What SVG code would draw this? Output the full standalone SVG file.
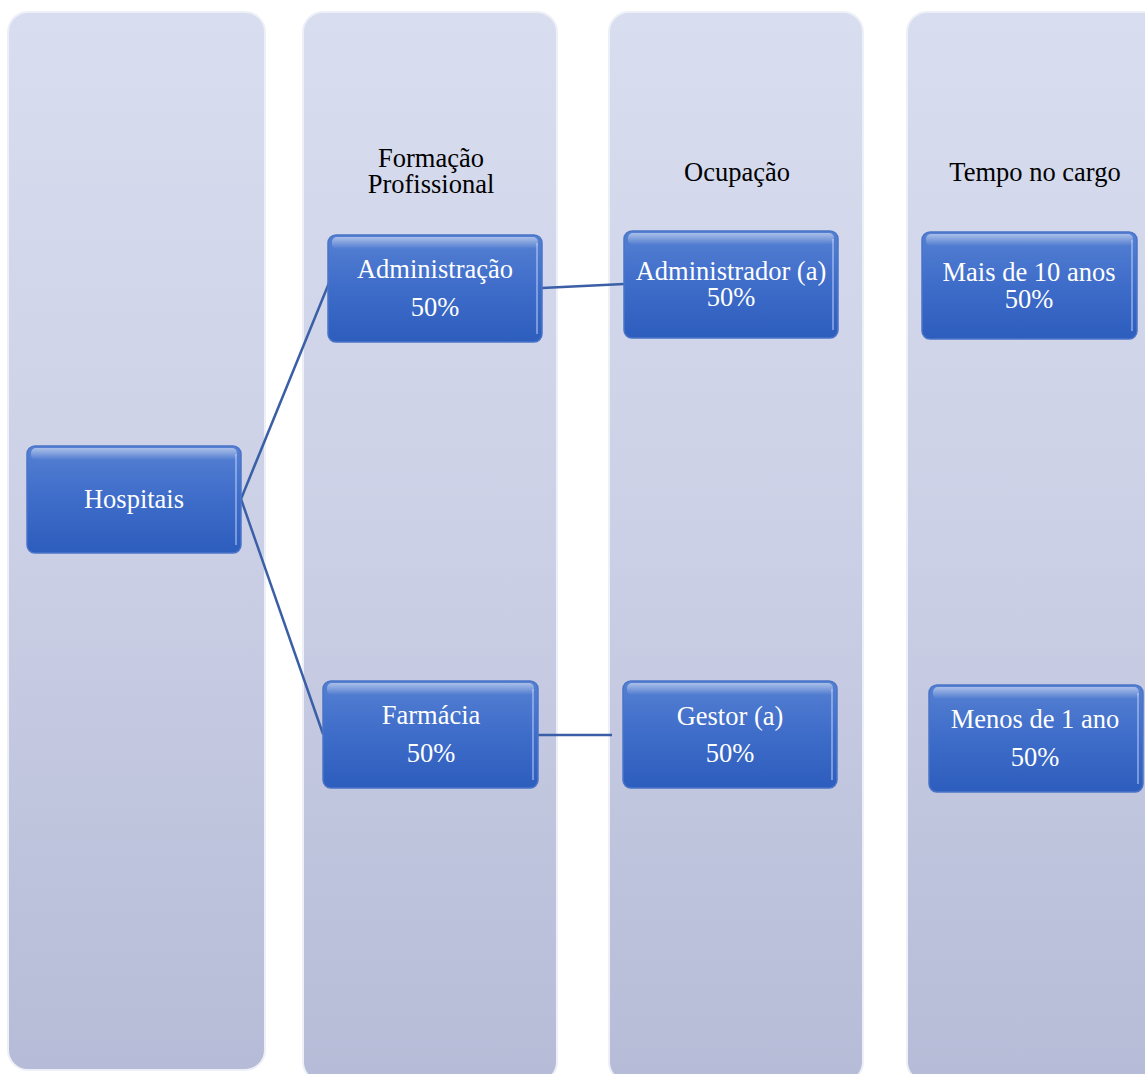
<svg xmlns="http://www.w3.org/2000/svg" width="1145" height="1074" viewBox="0 0 1145 1074">
<defs>
<linearGradient id="colg" x1="0" y1="0" x2="0" y2="1">
<stop offset="0" stop-color="#d8ddef"/>
<stop offset="0.5" stop-color="#cbd0e6"/>
<stop offset="1" stop-color="#b6bbd7"/>
</linearGradient>
<linearGradient id="nodeg" x1="0" y1="0" x2="0" y2="1">
<stop offset="0" stop-color="#5580d2"/>
<stop offset="0.5" stop-color="#3e6cc9"/>
<stop offset="1" stop-color="#2d5dbd"/>
</linearGradient>
<linearGradient id="shine" x1="0" y1="0" x2="0" y2="1">
<stop offset="0" stop-color="#ffffff" stop-opacity="0.5"/>
<stop offset="1" stop-color="#ffffff" stop-opacity="0"/>
</linearGradient>
<style>
.col{fill:url(#colg);stroke:#eef0f8;stroke-width:2}
.node rect.b{fill:url(#nodeg);stroke:#4a74c8;stroke-width:1.5}
.node rect.s{fill:url(#shine)}
.node path.r{fill:none;stroke:#cfe0ff;stroke-width:1.5;stroke-opacity:0.6}
.t{font-family:"Liberation Serif","Times New Roman",serif;font-size:26.5px;fill:#ffffff;text-anchor:middle}
.h{font-family:"Liberation Serif","Times New Roman",serif;font-size:26.5px;fill:#000000;text-anchor:middle}
.c{stroke:#3a5fa6;stroke-width:2.5;fill:none}
</style>
</defs>
<rect width="1145" height="1074" fill="#ffffff"/>
<g id="columns">
<rect class="col" x="8" y="12" width="257" height="1058" rx="20"/>
<rect class="col" x="303" y="12" width="254" height="1070" rx="20"/>
<rect class="col" x="609" y="12" width="254" height="1070" rx="20"/>
<rect class="col" x="907" y="12" width="258" height="1070" rx="20"/>
</g>
<g id="headers">
<text class="h" x="431" y="167">Formação</text>
<text class="h" x="431" y="193">Profissional</text>
<text class="h" x="737" y="181">Ocupação</text>
<text class="h" x="1035" y="181">Tempo no cargo</text>
</g>
<g id="connectors">
<line class="c" x1="241" y1="499" x2="329" y2="283"/>
<line class="c" x1="241" y1="499" x2="323" y2="734"/>
<line class="c" x1="542" y1="288" x2="624" y2="284"/>
<line class="c" x1="538" y1="735" x2="612" y2="735"/>
</g>
<g id="n-hospitais" class="node">
<rect class="b" x="27" y="446" width="214" height="107" rx="8"/>
<rect class="s" x="31" y="448" width="206" height="12" rx="5"/>
<path class="r" d="M236 454 V545"/>
<text class="t" x="134" y="508">Hospitais</text>
</g>
<g id="n-administracao" class="node">
<rect class="b" x="328" y="235" width="214" height="107" rx="8"/>
<rect class="s" x="332" y="237" width="206" height="12" rx="5"/>
<path class="r" d="M537 243 V334"/>
<text class="t" x="435" y="278">Administração</text>
<text class="t" x="435" y="316">50%</text>
</g>
<g id="n-farmacia" class="node">
<rect class="b" x="323" y="681" width="215" height="107" rx="8"/>
<rect class="s" x="327" y="683" width="207" height="12" rx="5"/>
<path class="r" d="M533 689 V780"/>
<text class="t" x="431" y="724">Farmácia</text>
<text class="t" x="431" y="762">50%</text>
</g>
<g id="n-administrador" class="node">
<rect class="b" x="624" y="231" width="214" height="107" rx="8"/>
<rect class="s" x="628" y="233" width="206" height="12" rx="5"/>
<path class="r" d="M833 239 V330"/>
<text class="t" x="731" y="280">Administrador (a)</text>
<text class="t" x="731" y="306">50%</text>
</g>
<g id="n-gestor" class="node">
<rect class="b" x="623" y="681" width="214" height="107" rx="8"/>
<rect class="s" x="627" y="683" width="206" height="12" rx="5"/>
<path class="r" d="M832 689 V780"/>
<text class="t" x="730" y="725">Gestor (a)</text>
<text class="t" x="730" y="762">50%</text>
</g>
<g id="n-mais10" class="node">
<rect class="b" x="922" y="232" width="215" height="107" rx="8"/>
<rect class="s" x="926" y="234" width="207" height="12" rx="5"/>
<path class="r" d="M1132 240 V331"/>
<text class="t" x="1029" y="281">Mais de 10 anos</text>
<text class="t" x="1029" y="308">50%</text>
</g>
<g id="n-menos1" class="node">
<rect class="b" x="929" y="685" width="214" height="107" rx="8"/>
<rect class="s" x="933" y="687" width="206" height="12" rx="5"/>
<path class="r" d="M1138 693 V784"/>
<text class="t" x="1035" y="728">Menos de 1 ano</text>
<text class="t" x="1035" y="766">50%</text>
</g>
</svg>
